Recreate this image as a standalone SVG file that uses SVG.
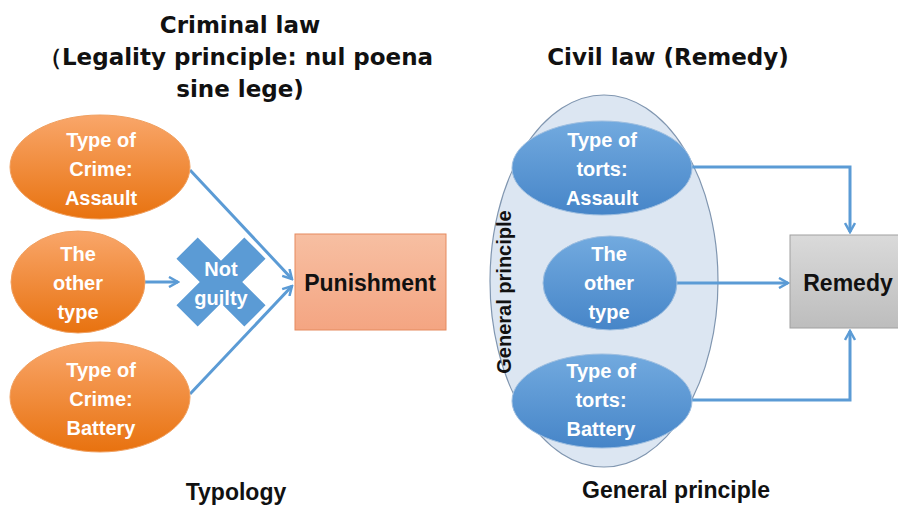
<svg xmlns="http://www.w3.org/2000/svg" width="898" height="507" viewBox="0 0 898 507">
<defs>
<style>
.title{font-family:"DejaVu Sans","Liberation Sans",sans-serif;font-weight:bold;font-size:23px;fill:#111;text-anchor:middle}
.lbl{font-family:"Liberation Sans",Arial,sans-serif;font-weight:bold;font-size:20px;fill:#fff;text-anchor:middle}
.blk{font-family:"Liberation Sans",Arial,sans-serif;font-weight:bold;font-size:23px;fill:#111;text-anchor:middle}
.conn{fill:none;stroke:#5B9BD5;stroke-width:3}
</style>
<linearGradient id="og" x1="0" y1="0" x2="0" y2="1"><stop offset="0" stop-color="#F9A66A"/><stop offset="1" stop-color="#E8720F"/></linearGradient>
<linearGradient id="bg" x1="0" y1="0" x2="0" y2="1"><stop offset="0" stop-color="#72AADF"/><stop offset="1" stop-color="#4685C8"/></linearGradient>
<linearGradient id="pg" x1="0" y1="0" x2="0" y2="1"><stop offset="0" stop-color="#F7BFA2"/><stop offset="1" stop-color="#F4A582"/></linearGradient>
<linearGradient id="gg" x1="0" y1="0" x2="0" y2="1"><stop offset="0" stop-color="#DADADA"/><stop offset="1" stop-color="#BDBDBD"/></linearGradient>
<marker id="ah" viewBox="0 0 12 12" refX="10" refY="6" markerWidth="12" markerHeight="12" markerUnits="userSpaceOnUse" orient="auto">
<path d="M1,1 L10,6 L1,11" fill="none" stroke="#5B9BD5" stroke-width="2.5"/>
</marker>
</defs>
<rect width="898" height="507" fill="#fff"/>

<g id="titles">
<text class="title" x="240" y="33">Criminal law</text>
<text class="title" x="236" y="65">（Legality principle: nul poena</text>
<text class="title" x="240" y="97">sine lege)</text>
<text class="title" x="668" y="65">Civil law (Remedy)</text>
<text class="blk" x="236" y="500">Typology</text>
<text class="blk" x="676" y="498">General principle</text>
</g>

<g id="general-principle">
<ellipse cx="604" cy="281" rx="114" ry="186" fill="#DCE6F2" stroke="#8096B0" stroke-width="1.2"/>
<text class="blk" transform="translate(511,292) rotate(-90)" style="font-size:20px">General principle</text>
</g>

<g id="connectors">
<line class="conn" x1="190" y1="170" x2="292" y2="279" marker-end="url(#ah)"/>
<line class="conn" x1="145" y1="282" x2="178" y2="282" marker-end="url(#ah)"/>
<line class="conn" x1="190" y1="394" x2="292" y2="286" marker-end="url(#ah)"/>
<polyline class="conn" points="692,167 850,167 850,232" marker-end="url(#ah)"/>
<line class="conn" x1="677" y1="283" x2="788" y2="283" marker-end="url(#ah)"/>
<polyline class="conn" points="692,400 850,400 850,331" marker-end="url(#ah)"/>
</g>

<g id="crime-assault">
<ellipse cx="100" cy="167" rx="90" ry="52" fill="url(#og)" stroke="#F0A060" stroke-width="1"/>
<text class="lbl" x="101" y="147">Type of</text>
<text class="lbl" x="101" y="176">Crime:</text>
<text class="lbl" x="101" y="205">Assault</text>
</g>
<g id="crime-other">
<ellipse cx="78" cy="282" rx="67" ry="51" fill="url(#og)" stroke="#F0A060" stroke-width="1"/>
<text class="lbl" x="78" y="261">The</text>
<text class="lbl" x="78" y="290">other</text>
<text class="lbl" x="78" y="319">type</text>
</g>
<g id="crime-battery">
<ellipse cx="100" cy="397" rx="90" ry="55" fill="url(#og)" stroke="#F0A060" stroke-width="1"/>
<text class="lbl" x="101" y="377">Type of</text>
<text class="lbl" x="101" y="406">Crime:</text>
<text class="lbl" x="101" y="435">Battery</text>
</g>

<g id="not-guilty">
<polygon transform="translate(221,282) rotate(45)" points="-15,-48 15,-48 15,-15 48,-15 48,15 15,15 15,48 -15,48 -15,15 -48,15 -48,-15 -15,-15" fill="#5B9BD5"/>
<text class="lbl" x="221" y="276">Not</text>
<text class="lbl" x="221" y="305">guilty</text>
</g>

<g id="punishment">
<rect x="295" y="234" width="151" height="96" fill="url(#pg)" stroke="#E58A5F" stroke-width="1"/>
<text class="blk" x="370" y="291">Punishment</text>
</g>

<g id="tort-assault">
<ellipse cx="602" cy="168" rx="90" ry="47" fill="url(#bg)" stroke="#9DBEE0" stroke-width="1"/>
<text class="lbl" x="602" y="147">Type of</text>
<text class="lbl" x="602" y="176">torts:</text>
<text class="lbl" x="602" y="205">Assault</text>
</g>
<g id="tort-other">
<ellipse cx="610" cy="283" rx="67" ry="47" fill="url(#bg)" stroke="#9DBEE0" stroke-width="1"/>
<text class="lbl" x="609" y="261">The</text>
<text class="lbl" x="609" y="290">other</text>
<text class="lbl" x="609" y="319">type</text>
</g>
<g id="tort-battery">
<ellipse cx="602" cy="401" rx="90" ry="47" fill="url(#bg)" stroke="#9DBEE0" stroke-width="1"/>
<text class="lbl" x="601" y="378">Type of</text>
<text class="lbl" x="601" y="407">torts:</text>
<text class="lbl" x="601" y="436">Battery</text>
</g>

<g id="remedy">
<rect x="790" y="235" width="112" height="93" fill="url(#gg)" stroke="#A0A0A0" stroke-width="1"/>
<text class="blk" x="848" y="291">Remedy</text>
</g>
</svg>
